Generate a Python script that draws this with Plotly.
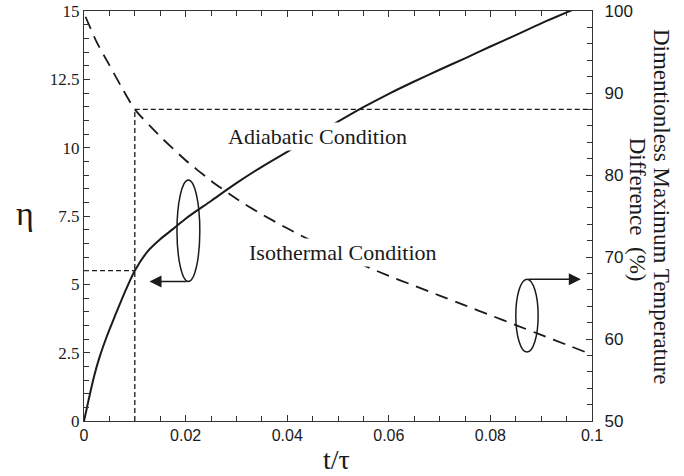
import plotly.graph_objects as go

# ---- data ----
t_adiabatic = [0, 0.0005, 0.001, 0.002, 0.003, 0.0045, 0.006, 0.008, 0.01, 0.0125,
               0.015, 0.0175, 0.02, 0.025, 0.03, 0.035, 0.04, 0.045, 0.05, 0.055,
               0.06, 0.065, 0.07, 0.075, 0.08, 0.085, 0.09, 0.0963]
eta_adiabatic = [0, 0.42, 0.85, 1.65, 2.3, 3.1, 3.8, 4.7, 5.5, 6.2,
                 6.65, 7.02, 7.4, 8.05, 8.7, 9.3, 9.85, 10.4, 10.95, 11.48,
                 11.97, 12.42, 12.85, 13.27, 13.7, 14.12, 14.55, 15.05]

t_isothermal = [0.0003, 0.0025, 0.005, 0.0075, 0.01, 0.015, 0.02, 0.025, 0.03,
                0.035, 0.04, 0.045, 0.05, 0.055, 0.06, 0.065, 0.07, 0.075, 0.08,
                0.085, 0.09, 0.095, 0.1]
pct_isothermal = [99.3, 96.2, 93.4, 90.6, 88.0, 84.7, 81.8, 79.3, 77.1,
                  75.2, 73.5, 71.9, 70.4, 69.0, 67.7, 66.5, 65.3, 64.1, 62.9,
                  61.7, 60.5, 59.3, 58.1]

guide_t = 0.01
guide_eta = 5.5
guide_pct = 88.0

x_range = [0, 0.1]
eta_range = [0, 15]
pct_range = [50, 100]

SERIF = "Liberation Serif, Times New Roman, serif"
SANS = "Liberation Sans, Arial, sans-serif"
INK = "#1a1a1a"
AX = "#333333"

fig = go.Figure()

# guide lines
fig.add_trace(go.Scatter(x=[x_range[0], guide_t], y=[guide_eta, guide_eta], mode="lines",
                         line=dict(color=INK, width=1.3, dash="5px,3px"), yaxis="y",
                         showlegend=False, hoverinfo="skip"))
fig.add_trace(go.Scatter(x=[guide_t, guide_t], y=[pct_range[0], guide_pct], mode="lines",
                         line=dict(color=INK, width=1.3, dash="5px,3px"), yaxis="y2",
                         showlegend=False, hoverinfo="skip"))
fig.add_trace(go.Scatter(x=[guide_t, x_range[1]], y=[guide_pct, guide_pct], mode="lines",
                         line=dict(color=INK, width=1.3, dash="5px,3px"), yaxis="y2",
                         showlegend=False, hoverinfo="skip"))

# curves
fig.add_trace(go.Scatter(x=t_isothermal, y=pct_isothermal, mode="lines", yaxis="y2",
                         line=dict(color=INK, width=1.8, dash="13px,8px", shape="spline",
                                   smoothing=0.6),
                         name="Isothermal Condition", showlegend=False))
fig.add_trace(go.Scatter(x=t_adiabatic, y=eta_adiabatic, mode="lines", yaxis="y",
                         line=dict(color=INK, width=2, shape="spline", smoothing=0.8),
                         name="Adiabatic Condition", showlegend=False))

# ellipses
fig.add_shape(type="circle", xref="x", yref="y", x0=0.0183, x1=0.0228, y0=5.10, y1=8.82,
              line=dict(color=INK, width=1.5))
fig.add_shape(type="circle", xref="x", yref="y2", x0=0.0850, x1=0.0894, y0=58.4, y1=67.3,
              line=dict(color=INK, width=1.5))

# arrows
fig.add_annotation(x=0.0129, y=5.10, xref="x", yref="y", ax=0.0205, ay=5.10,
                   axref="x", ayref="y", text="", showarrow=True, arrowhead=2,
                   arrowsize=1.6, arrowwidth=1.5, arrowcolor=INK)
fig.add_annotation(x=0.0978, y=67.3, xref="x", yref="y2", ax=0.0872, ay=67.3,
                   axref="x", ayref="y2", text="", showarrow=True, arrowhead=2,
                   arrowsize=1.6, arrowwidth=1.5, arrowcolor=INK)

# curve labels
fig.add_annotation(x=0.0459, y=10.40, xref="x", yref="y", text="Adiabatic Condition",
                   showarrow=False, bgcolor="white", borderpad=1,
                   font=dict(family=SERIF, size=22, color=INK))
fig.add_annotation(x=0.0509, y=6.18, xref="x", yref="y", text="Isothermal Condition",
                   showarrow=False, bgcolor="white", borderpad=1,
                   font=dict(family=SERIF, size=22, color=INK))

# axis titles
fig.add_annotation(x=-0.116, y=0.505, xref="paper", yref="paper", text="η",
                   xanchor="center", yanchor="middle",
                   showarrow=False, font=dict(family=SERIF, size=34, color=INK))
fig.add_annotation(x=0.498, y=-0.095, xref="paper", yref="paper", text="t/τ",
                   xanchor="center", yanchor="middle",
                   showarrow=False, font=dict(family=SERIF, size=28, color=INK))
fig.add_annotation(x=1.136, y=0.522, xref="paper", yref="paper",
                   text="Dimentionless Maximum Temperature",
                   xanchor="center", yanchor="middle",
                   textangle=90, showarrow=False,
                   font=dict(family=SERIF, size=23, color=INK))
fig.add_annotation(x=1.089, y=0.515, xref="paper", yref="paper",
                   text="Difference  (%)",
                   xanchor="center", yanchor="middle",
                   textangle=90, showarrow=False,
                   font=dict(family=SERIF, size=23, color=INK))

fig.update_layout(
    width=684, height=476,
    margin=dict(l=84, r=92, t=11, b=55, autoexpand=False),
    paper_bgcolor="white", plot_bgcolor="white",
    xaxis=dict(range=x_range, dtick=0.02, tick0=0, ticks="inside", ticklen=6,
               tickcolor=AX, showline=True, linecolor=AX, linewidth=1.2,
               mirror="ticks", showgrid=False, zeroline=False, automargin=False,
               tickfont=dict(family=SANS, size=16, color=INK),
               minor=dict(dtick=0.005, ticks="inside", ticklen=5, tickcolor=AX, showgrid=False)),
    yaxis=dict(range=eta_range, dtick=2.5, tick0=0, ticks="inside", ticklen=6,
               tickcolor=AX, showline=True, linecolor=AX, linewidth=1.2,
               showgrid=False, zeroline=False, automargin=False,
               tickfont=dict(family=SERIF, size=17, color=INK),
               minor=dict(dtick=0.5, ticks="inside", ticklen=5, tickcolor=AX, showgrid=False)),
    yaxis2=dict(range=pct_range, dtick=10, tick0=50, overlaying="y", side="right",
                ticks="inside", ticklen=6, tickcolor=AX, showline=True, linecolor=AX,
                linewidth=1.2, showgrid=False, zeroline=False, ticklabelstandoff=8,
                automargin=False,
                tickfont=dict(family=SANS, size=17, color=INK),
                minor=dict(dtick=2, ticks="inside", ticklen=5, tickcolor=AX, showgrid=False)),
)

fig.write_html("out.html")
